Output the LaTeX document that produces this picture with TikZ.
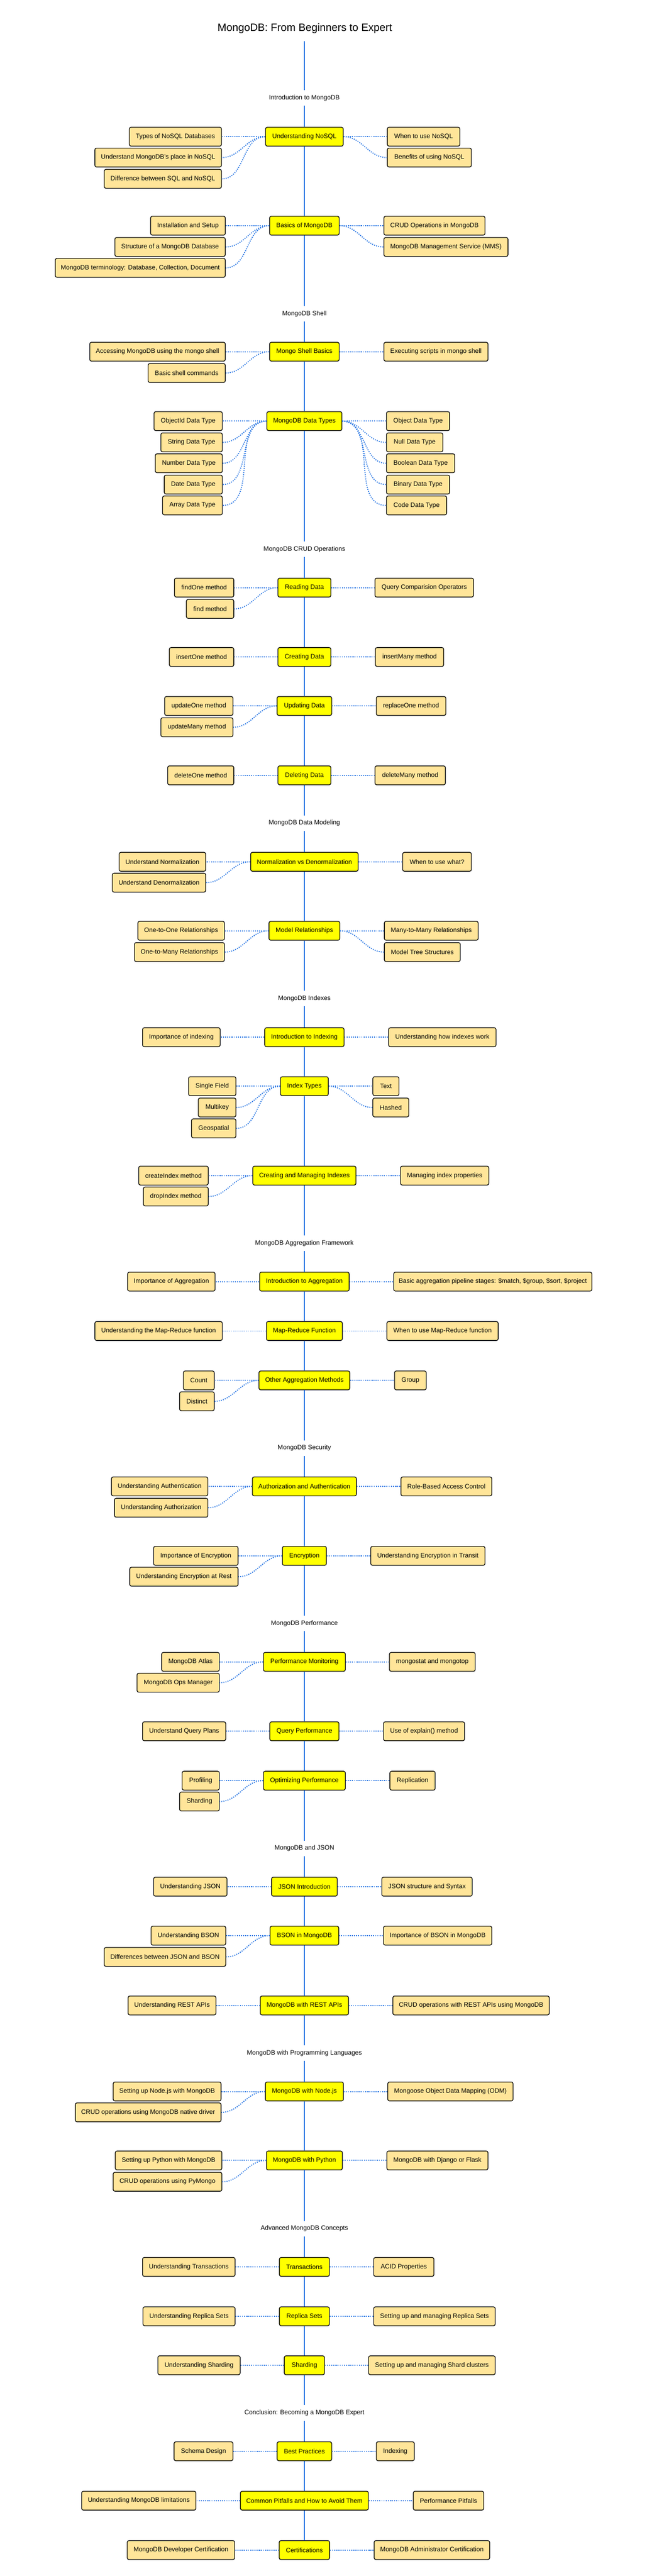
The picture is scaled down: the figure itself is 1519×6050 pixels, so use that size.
\documentclass[tikz,border=0pt]{standalone}
\usepackage{fontspec}
\setmainfont{Liberation Sans}
\definecolor{lineblue}{HTML}{2B78E4}
\definecolor{mainyellow}{HTML}{FFFF00}
\definecolor{kidtan}{HTML}{FFE599}
\tikzset{
  boxbase/.style={draw=black, line width=1.6pt, rounded corners=4pt, minimum height=44.4pt, inner sep=2pt, font=\fontsize{15}{18}\selectfont},
  mainbox/.style={boxbase, fill=mainyellow},
  kidbox/.style={boxbase, fill=kidtan},
  seclabel/.style={inner sep=0pt, minimum height=36pt, font=\fontsize{15}{18}\selectfont},
  spine/.style={draw=lineblue, line width=2pt},
  conn/.style={draw=lineblue, line width=2.4pt, dash pattern=on 2.2pt off 2.8pt},
}
\newcommand\mainnode[5]{\node[mainbox, minimum width={#3-#2-1.6}] (#1) at (715,#4) {#5};}
\newcommand\kidnode[5]{\node[kidbox, minimum width={#3-#2-1.6}] (#1) at ({(#2+#3)/2},#4) {#5};}
\newcommand\seclab[3]{\node[seclabel] (#1) at (715,#2) {#3};}
\newcommand\lk[2]{\draw[conn] (#1.west) to[out=180,in=0] (#2.east);}
\newcommand\rk[2]{\draw[conn] (#1.east) to[out=0,in=180] (#2.west);}
\begin{document}
\begin{tikzpicture}[x=1pt,y=-1pt]
\useasboundingbox (0,0) rectangle (1519,6050);
\fill[white] (0,0) rectangle (1519,6050);

\node[font=\fontsize{25}{30}\selectfont] (title) at (716,67) {MongoDB: From Beginners to Expert};
\coordinate (start) at (715,97);

% ---- Introduction to MongoDB
\seclab{s1}{230}{Introduction to MongoDB}
\mainnode{m1}{623}{807}{321}{Understanding NoSQL}
\kidnode{m1a}{303}{521}{321}{Types of NoSQL Databases}
\kidnode{m1b}{222}{521}{370}{Understand MongoDB's place in NoSQL}
\kidnode{m1c}{244}{521}{420}{Difference between SQL and NoSQL}
\kidnode{m1d}{909}{1081}{321}{When to use NoSQL}
\kidnode{m1e}{909}{1108}{370}{Benefits of using NoSQL}
\lk{m1}{m1a}\lk{m1}{m1b}\lk{m1}{m1c}\rk{m1}{m1d}\rk{m1}{m1e}

\mainnode{m2}{632}{797}{530}{Basics of MongoDB}
\kidnode{m2a}{353}{530}{530}{Installation and Setup}
\kidnode{m2b}{269}{530}{580}{Structure of a MongoDB Database}
\kidnode{m2c}{129}{530}{629}{MongoDB terminology: Database, Collection, Document}
\kidnode{m2d}{901}{1140}{530}{CRUD Operations in MongoDB}
\kidnode{m2e}{901}{1194}{580}{MongoDB Management Service (MMS)}
\lk{m2}{m2a}\lk{m2}{m2b}\lk{m2}{m2c}\rk{m2}{m2d}\rk{m2}{m2e}

% ---- MongoDB Shell
\seclab{s2}{737}{MongoDB Shell}
\mainnode{m3}{632}{797}{826}{Mongo Shell Basics}
\kidnode{m3a}{210}{530}{826}{Accessing MongoDB using the mongo shell}
\kidnode{m3b}{347}{530}{876}{Basic shell commands}
\kidnode{m3c}{901}{1147}{826}{Executing scripts in mongo shell}
\lk{m3}{m3a}\lk{m3}{m3b}\rk{m3}{m3c}

\mainnode{m4}{626}{804}{989}{MongoDB Data Types}
\kidnode{m4a}{361}{523}{989}{ObjectId Data Type}
\kidnode{m4b}{377}{523}{1039}{String Data Type}
\kidnode{m4c}{364}{523}{1088}{Number Data Type}
\kidnode{m4d}{385}{523}{1138}{Date Data Type}
\kidnode{m4e}{381}{523}{1187}{Array Data Type}
\kidnode{m4f}{907}{1057}{989}{Object Data Type}
\kidnode{m4g}{907}{1041}{1039}{Null Data Type}
\kidnode{m4h}{907}{1069}{1088}{Boolean Data Type}
\kidnode{m4i}{907}{1057}{1138}{Binary Data Type}
\kidnode{m4j}{907}{1050}{1187}{Code Data Type}
\lk{m4}{m4a}\lk{m4}{m4b}\lk{m4}{m4c}\lk{m4}{m4d}\lk{m4}{m4e}
\rk{m4}{m4f}\rk{m4}{m4g}\rk{m4}{m4h}\rk{m4}{m4i}\rk{m4}{m4j}

% ---- CRUD
\seclab{s3}{1290}{MongoDB CRUD Operations}
\mainnode{m5}{652}{778}{1380}{Reading Data}
\kidnode{m5a}{409}{550}{1380}{findOne method}
\kidnode{m5b}{437}{550}{1430}{find method}
\kidnode{m5c}{880}{1113}{1380}{Query Comparision Operators}
\lk{m5}{m5a}\lk{m5}{m5b}\rk{m5}{m5c}

\mainnode{m6}{652}{778}{1543}{Creating Data}
\kidnode{m6a}{397}{550}{1543}{insertOne method}
\kidnode{m6b}{881}{1043}{1543}{insertMany method}
\lk{m6}{m6a}\rk{m6}{m6b}

\mainnode{m7}{650}{780}{1658}{Updating Data}
\kidnode{m7a}{386}{548}{1658}{updateOne method}
\kidnode{m7b}{377}{548}{1708}{updateMany method}
\kidnode{m7c}{883}{1048}{1658}{replaceOne method}
\lk{m7}{m7a}\lk{m7}{m7b}\rk{m7}{m7c}

\mainnode{m8}{652}{778}{1821}{Deleting Data}
\kidnode{m8a}{393}{550}{1821}{deleteOne method}
\kidnode{m8b}{880}{1047}{1821}{deleteMany method}
\lk{m8}{m8a}\rk{m8}{m8b}

% ---- Data Modeling
\seclab{s4}{1933}{MongoDB Data Modeling}
\mainnode{m9}{588}{842}{2024}{Normalization vs Denormalization}
\kidnode{m9a}{279}{484}{2024}{Understand Normalization}
\kidnode{m9b}{263}{484}{2073}{Understand Denormalization}
\kidnode{m9c}{945}{1108}{2024}{When to use what?}
\lk{m9}{m9a}\lk{m9}{m9b}\rk{m9}{m9c}

\mainnode{m10}{631}{799}{2186}{Model Relationships}
\kidnode{m10a}{323}{528}{2186}{One-to-One Relationships}
\kidnode{m10b}{315}{528}{2236}{One-to-Many Relationships}
\kidnode{m10c}{902}{1124}{2186}{Many-to-Many Relationships}
\kidnode{m10d}{902}{1082}{2236}{Model Tree Structures}
\lk{m10}{m10a}\lk{m10}{m10b}\rk{m10}{m10c}\rk{m10}{m10d}

% ---- Indexes
\seclab{s5}{2345}{MongoDB Indexes}
\mainnode{m11}{621}{809}{2436}{Introduction to Indexing}
\kidnode{m11a}{334}{518}{2436}{Importance of indexing}
\kidnode{m11b}{912}{1166}{2436}{Understanding how indexes work}
\lk{m11}{m11a}\rk{m11}{m11b}

\mainnode{m12}{658}{772}{2551}{Index Types}
\kidnode{m12a}{442}{555}{2551}{Single Field}
\kidnode{m12b}{465}{555}{2601}{Multikey}
\kidnode{m12c}{449}{555}{2650}{Geospatial}
\kidnode{m12d}{875}{938}{2551}{Text}
\kidnode{m12e}{875}{961}{2601}{Hashed}
\lk{m12}{m12a}\lk{m12}{m12b}\lk{m12}{m12c}\rk{m12}{m12d}\rk{m12}{m12e}

\mainnode{m13}{593}{837}{2761}{Creating and Managing Indexes}
\kidnode{m13a}{325}{490}{2761}{createIndex method}
\kidnode{m13b}{336}{490}{2810}{dropIndex method}
\kidnode{m13c}{940}{1149}{2761}{Managing index properties}
\lk{m13}{m13a}\lk{m13}{m13b}\rk{m13}{m13c}

% ---- Aggregation
\seclab{s6}{2920}{MongoDB Aggregation Framework}
\mainnode{m14}{609}{821}{3010}{Introduction to Aggregation}
\kidnode{m14a}{299}{506}{3010}{Importance of Aggregation}
\kidnode{m14b}{924}{1391}{3010}{Basic aggregation pipeline stages: \$match, \$group, \$sort, \$project}
\lk{m14}{m14a}\rk{m14}{m14b}

\mainnode{m15}{625}{805}{3126}{Map-Reduce Function}
\kidnode{m15a}{222}{523}{3126}{Understanding the Map-Reduce function}
\kidnode{m15b}{908}{1171}{3126}{When to use Map-Reduce function}
\lk{m15}{m15a}\rk{m15}{m15b}

\mainnode{m16}{609}{824}{3242}{Other Aggregation Methods}
\kidnode{m16a}{430}{504}{3242}{Count}
\kidnode{m16b}{421}{504}{3291}{Distinct}
\kidnode{m16c}{926}{1002}{3242}{Group}
\lk{m16}{m16a}\lk{m16}{m16b}\rk{m16}{m16c}

% ---- Security
\seclab{s7}{3401}{MongoDB Security}
\mainnode{m17}{592}{838}{3491}{Authorization and Authentication}
\kidnode{m17a}{261}{489}{3491}{Understanding Authentication}
\kidnode{m17b}{268}{489}{3541}{Understanding Authorization}
\kidnode{m17c}{941}{1156}{3491}{Role-Based Access Control}
\lk{m17}{m17a}\lk{m17}{m17b}\rk{m17}{m17c}

\mainnode{m18}{663}{768}{3654}{Encryption}
\kidnode{m18a}{360}{560}{3654}{Importance of Encryption}
\kidnode{m18b}{304}{560}{3703}{Understanding Encryption at Rest}
\kidnode{m18c}{870}{1140}{3654}{Understanding Encryption in Transit}
\lk{m18}{m18a}\lk{m18}{m18b}\rk{m18}{m18c}

% ---- Performance
\seclab{s8}{3813}{MongoDB Performance}
\mainnode{m19}{618}{812}{3903}{Performance Monitoring}
\kidnode{m19a}{379}{516}{3903}{MongoDB Atlas}
\kidnode{m19b}{321}{516}{3952}{MongoDB Ops Manager}
\kidnode{m19c}{914}{1117}{3903}{mongostat and mongotop}
\lk{m19}{m19a}\lk{m19}{m19b}\rk{m19}{m19c}

\mainnode{m20}{633}{797}{4066}{Query Performance}
\kidnode{m20a}{334}{531}{4066}{Understand Query Plans}
\kidnode{m20b}{900}{1092}{4066}{Use of explain() method}
\lk{m20}{m20a}\rk{m20}{m20b}

\mainnode{m21}{618}{812}{4182}{Optimizing Performance}
\kidnode{m21a}{427}{516}{4182}{Profiling}
\kidnode{m21b}{421}{516}{4231}{Sharding}
\kidnode{m21c}{915}{1023}{4182}{Replication}
\lk{m21}{m21a}\lk{m21}{m21b}\rk{m21}{m21c}

% ---- JSON
\seclab{s9}{4341}{MongoDB and JSON}
\mainnode{m22}{638}{794}{4431}{JSON Introduction}
\kidnode{m22a}{360}{534}{4431}{Understanding JSON}
\kidnode{m22b}{896}{1110}{4431}{JSON structure and Syntax}
\lk{m22}{m22a}\rk{m22}{m22b}

\mainnode{m23}{634}{797}{4546}{BSON in MongoDB}
\kidnode{m23a}{354}{531}{4546}{Understanding BSON}
\kidnode{m23b}{244}{531}{4596}{Differences between JSON and BSON}
\kidnode{m23c}{900}{1156}{4546}{Importance of BSON in MongoDB}
\lk{m23}{m23a}\lk{m23}{m23b}\rk{m23}{m23c}

\mainnode{m24}{611}{820}{4710}{MongoDB with REST APIs}
\kidnode{m24a}{300}{508}{4710}{Understanding REST APIs}
\kidnode{m24b}{922}{1291}{4710}{CRUD operations with REST APIs using MongoDB}
\lk{m24}{m24a}\rk{m24}{m24b}

% ---- Programming languages
\seclab{s10}{4822}{MongoDB with Programming Languages}
\mainnode{m25}{623}{808}{4912}{MongoDB with Node.js}
\kidnode{m25a}{265}{520}{4912}{Setting up Node.js with MongoDB}
\kidnode{m25b}{176}{520}{4961}{CRUD operations using MongoDB native driver}
\kidnode{m25c}{910}{1206}{4912}{Mongoose Object Data Mapping (ODM)}
\lk{m25}{m25a}\lk{m25}{m25b}\rk{m25}{m25c}

\mainnode{m26}{625}{805}{5074}{MongoDB with Python}
\kidnode{m26a}{270}{522}{5074}{Setting up Python with MongoDB}
\kidnode{m26b}{265}{522}{5124}{CRUD operations using PyMongo}
\kidnode{m26c}{908}{1147}{5074}{MongoDB with Django or Flask}
\lk{m26}{m26a}\lk{m26}{m26b}\rk{m26}{m26c}

% ---- Advanced
\seclab{s11}{5234}{Advanced MongoDB Concepts}
\mainnode{m27}{656}{775}{5324}{Transactions}
\kidnode{m27a}{334}{553}{5324}{Understanding Transactions}
\kidnode{m27b}{877}{1020}{5324}{ACID Properties}
\lk{m27}{m27a}\rk{m27}{m27b}

\mainnode{m28}{656}{775}{5440}{Replica Sets}
\kidnode{m28a}{335}{553}{5440}{Understanding Replica Sets}
\kidnode{m28b}{877}{1164}{5440}{Setting up and managing Replica Sets}
\lk{m28}{m28a}\rk{m28}{m28b}

\mainnode{m29}{668}{764}{5555}{Sharding}
\kidnode{m29a}{370}{565}{5555}{Understanding Sharding}
\kidnode{m29b}{865}{1164}{5555}{Setting up and managing Shard clusters}
\lk{m29}{m29a}\rk{m29}{m29b}

% ---- Conclusion
\seclab{s12}{5667}{Conclusion: Becoming a MongoDB Expert}
\mainnode{m30}{650}{780}{5757}{Best Practices}
\kidnode{m30a}{408}{548}{5757}{Schema Design}
\kidnode{m30b}{883}{974}{5757}{Indexing}
\lk{m30}{m30a}\rk{m30}{m30b}

\mainnode{m31}{564}{866}{5873}{Common Pitfalls and How to Avoid Them}
\kidnode{m31a}{191}{461}{5873}{Understanding MongoDB limitations}
\kidnode{m31b}{970}{1137}{5873}{Performance Pitfalls}
\lk{m31}{m31a}\rk{m31}{m31b}

\mainnode{m32}{655}{775}{5989}{Certifications}
\kidnode{m32a}{298}{552}{5989}{MongoDB Developer Certification}
\kidnode{m32b}{878}{1151}{5989}{MongoDB Administrator Certification}
\lk{m32}{m32a}\rk{m32}{m32b}

% ---- spine
\foreach \a/\b in {start/s1, s1/m1, m1/m2, m2/s2, s2/m3, m3/m4, m4/s3, s3/m5, m5/m6, m6/m7, m7/m8, m8/s4, s4/m9, m9/m10, m10/s5, s5/m11, m11/m12, m12/m13, m13/s6, s6/m14, m14/m15, m15/m16, m16/s7, s7/m17, m17/m18, m18/s8, s8/m19, m19/m20, m20/m21, m21/s9, s9/m22, m22/m23, m23/m24, m24/s10, s10/m25, m25/m26, m26/s11, s11/m27, m27/m28, m28/m29, m29/s12, s12/m30, m30/m31, m31/m32}
  \draw[spine] (\a) -- (\b);
\end{tikzpicture}
\end{document}
